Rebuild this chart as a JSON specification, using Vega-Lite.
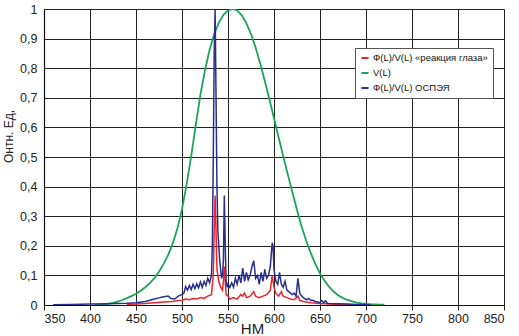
{
  "$schema": "https://vega.github.io/schema/vega-lite/v6.json",
  "width": 460,
  "height": 296,
  "autosize": {"type": "none"},
  "padding": {"left": 44, "top": 9, "right": 15, "bottom": 31},
  "background": "white",
  "config": {
    "font": "Liberation Sans",
    "view": {"stroke": null}
  },
  "datasets": {
    "v": [
      {"x":405,"y":0.00064},{"x":410,"y":0.00121},{"x":415,"y":0.00218},{"x":420,"y":0.004},{"x":425,"y":0.0073},{"x":430,"y":0.0116},{"x":435,"y":0.0168},{"x":440,"y":0.023},{"x":445,"y":0.0298},{"x":450,"y":0.038},{"x":455,"y":0.048},{"x":460,"y":0.06},{"x":465,"y":0.0739},{"x":470,"y":0.091},{"x":475,"y":0.1126},{"x":480,"y":0.139},{"x":485,"y":0.1693},{"x":490,"y":0.208},{"x":495,"y":0.2586},{"x":500,"y":0.323},{"x":505,"y":0.4073},{"x":510,"y":0.503},{"x":515,"y":0.6082},{"x":520,"y":0.71},{"x":525,"y":0.7932},{"x":530,"y":0.862},{"x":535,"y":0.9149},{"x":540,"y":0.954},{"x":545,"y":0.9803},{"x":550,"y":0.995},{"x":555,"y":1.0},{"x":560,"y":0.995},{"x":565,"y":0.9786},{"x":570,"y":0.952},{"x":575,"y":0.9154},{"x":580,"y":0.87},{"x":585,"y":0.8163},{"x":590,"y":0.757},{"x":595,"y":0.6949},{"x":600,"y":0.631},{"x":605,"y":0.5668},{"x":610,"y":0.503},{"x":615,"y":0.4412},{"x":620,"y":0.381},{"x":625,"y":0.321},{"x":630,"y":0.265},{"x":635,"y":0.217},{"x":640,"y":0.175},{"x":645,"y":0.1382},{"x":650,"y":0.107},{"x":655,"y":0.0816},{"x":660,"y":0.061},{"x":665,"y":0.0446},{"x":670,"y":0.032},{"x":675,"y":0.0232},{"x":680,"y":0.017},{"x":685,"y":0.0119},{"x":690,"y":0.0082},{"x":695,"y":0.0057},{"x":700,"y":0.0041},{"x":705,"y":0.0029},{"x":710,"y":0.0021},{"x":715,"y":0.0015},{"x":720,"y":0.001}
    ],
    "b": [
      {"x":360,"y":0.001},{"x":380,"y":0.002},{"x":400,"y":0.003},{"x":420,"y":0.004},{"x":440,"y":0.006},{"x":450,"y":0.008},{"x":460,"y":0.012},{"x":470,"y":0.02},{"x":475,"y":0.024},{"x":480,"y":0.028},{"x":485,"y":0.03},{"x":488,"y":0.022},{"x":492,"y":0.02},{"x":496,"y":0.03},{"x":500,"y":0.036},{"x":502,"y":0.04},{"x":504,"y":0.062},{"x":506,"y":0.05},{"x":508,"y":0.066},{"x":510,"y":0.052},{"x":512,"y":0.07},{"x":514,"y":0.055},{"x":516,"y":0.072},{"x":518,"y":0.058},{"x":520,"y":0.078},{"x":522,"y":0.06},{"x":524,"y":0.08},{"x":526,"y":0.066},{"x":528,"y":0.09},{"x":530,"y":0.075},{"x":532,"y":0.1},{"x":533,"y":0.2},{"x":534,"y":0.5},{"x":535,"y":0.85},{"x":536,"y":1.0},{"x":537,"y":0.7},{"x":538,"y":0.4},{"x":539,"y":0.25},{"x":540,"y":0.2},{"x":541,"y":0.15},{"x":542,"y":0.12},{"x":543,"y":0.09},{"x":544,"y":0.1},{"x":545,"y":0.15},{"x":546,"y":0.37},{"x":547,"y":0.2},{"x":548,"y":0.08},{"x":549,"y":0.06},{"x":550,"y":0.07},{"x":552,"y":0.06},{"x":554,"y":0.075},{"x":556,"y":0.06},{"x":558,"y":0.09},{"x":560,"y":0.07},{"x":562,"y":0.1},{"x":564,"y":0.075},{"x":566,"y":0.125},{"x":568,"y":0.08},{"x":570,"y":0.11},{"x":572,"y":0.085},{"x":574,"y":0.1},{"x":576,"y":0.13},{"x":578,"y":0.15},{"x":580,"y":0.09},{"x":582,"y":0.1},{"x":584,"y":0.07},{"x":586,"y":0.11},{"x":588,"y":0.08},{"x":590,"y":0.12},{"x":592,"y":0.09},{"x":594,"y":0.1},{"x":596,"y":0.13},{"x":598,"y":0.21},{"x":599,"y":0.2},{"x":600,"y":0.12},{"x":602,"y":0.08},{"x":604,"y":0.07},{"x":606,"y":0.11},{"x":608,"y":0.07},{"x":610,"y":0.06},{"x":612,"y":0.08},{"x":614,"y":0.05},{"x":616,"y":0.045},{"x":618,"y":0.04},{"x":620,"y":0.035},{"x":622,"y":0.04},{"x":624,"y":0.03},{"x":626,"y":0.09},{"x":628,"y":0.04},{"x":630,"y":0.03},{"x":632,"y":0.025},{"x":634,"y":0.02},{"x":636,"y":0.018},{"x":638,"y":0.022},{"x":640,"y":0.015},{"x":642,"y":0.016},{"x":645,"y":0.012},{"x":648,"y":0.01},{"x":650,"y":0.008},{"x":652,"y":0.015},{"x":654,"y":0.008},{"x":656,"y":0.014},{"x":658,"y":0.006},{"x":660,"y":0.005},{"x":670,"y":0.004},{"x":680,"y":0.003},{"x":690,"y":0.002},{"x":705,"y":0.001}
    ],
    "r": [
      {"x":440,"y":0.002},{"x":450,"y":0.003},{"x":460,"y":0.005},{"x":470,"y":0.008},{"x":480,"y":0.01},{"x":490,"y":0.012},{"x":495,"y":0.015},{"x":500,"y":0.016},{"x":504,"y":0.02},{"x":508,"y":0.018},{"x":512,"y":0.022},{"x":516,"y":0.02},{"x":520,"y":0.025},{"x":524,"y":0.022},{"x":528,"y":0.03},{"x":532,"y":0.035},{"x":534,"y":0.1},{"x":535,"y":0.25},{"x":536,"y":0.37},{"x":537,"y":0.25},{"x":538,"y":0.12},{"x":540,"y":0.08},{"x":542,"y":0.06},{"x":544,"y":0.05},{"x":545,"y":0.08},{"x":546,"y":0.13},{"x":547,"y":0.08},{"x":548,"y":0.035},{"x":550,"y":0.03},{"x":552,"y":0.02},{"x":556,"y":0.025},{"x":560,"y":0.02},{"x":564,"y":0.035},{"x":566,"y":0.03},{"x":568,"y":0.04},{"x":570,"y":0.025},{"x":574,"y":0.03},{"x":578,"y":0.045},{"x":580,"y":0.03},{"x":584,"y":0.025},{"x":588,"y":0.03},{"x":592,"y":0.035},{"x":596,"y":0.05},{"x":598,"y":0.1},{"x":600,"y":0.06},{"x":602,"y":0.04},{"x":605,"y":0.03},{"x":608,"y":0.045},{"x":610,"y":0.03},{"x":614,"y":0.025},{"x":618,"y":0.02},{"x":622,"y":0.018},{"x":626,"y":0.03},{"x":628,"y":0.015},{"x":632,"y":0.012},{"x":640,"y":0.008},{"x":650,"y":0.005},{"x":660,"y":0.003},{"x":670,"y":0.002},{"x":685,"y":0.001}
    ]
  },
  "encoding": {
    "x": {
      "field": "x", "type": "quantitative",
      "scale": {"domain": [350, 850], "nice": false},
      "axis": {
        "values": [350,400,450,500,550,600,650,700,750,800,850],
        "title": "НМ",
        "titleFont": "Liberation Sans", "titleFontSize": 15, "titleFontWeight": "normal", "titleColor": "#222",
        "titleX": 208, "titleY": 16, "titleAnchor": null, "titleAlign": "center", "titleBaseline": "top",
        "labelFont": "Liberation Sans", "labelFontSize": 12.5, "labelColor": "#222", "labelPadding": 2,
        "grid": true, "gridColor": "#222", "gridWidth": 1, "gridOpacity": 1,
        "domainColor": "#111", "domainWidth": 1.2,
        "ticks": true, "tickSize": 5, "tickColor": "#222"
      }
    },
    "y": {
      "field": "y", "type": "quantitative",
      "scale": {"domain": [0, 1], "nice": false},
      "axis": {
        "values": [0,0.1,0.2,0.3,0.4,0.5,0.6,0.7,0.8,0.9,1],
        "labelExpr": "replace(format(datum.value, '.1~f'), '.', ',')",
        "title": "Онтн. Ед,",
        "titleFont": "Liberation Sans", "titleFontSize": 12, "titleFontWeight": "normal", "titleColor": "#222",
        "titleX": -36, "titleY": 127, "titleAngle": -90, "titleAlign": "center", "titleBaseline": "middle", "titleAnchor": null,
        "labelFont": "Liberation Sans", "labelFontSize": 12.5, "labelColor": "#222", "labelPadding": 7,
        "grid": true, "gridColor": "#222", "gridWidth": 1, "gridOpacity": 1,
        "domainColor": "#111", "domainWidth": 1.2,
        "ticks": false
      }
    },
    "color": {
      "field": "s", "type": "nominal",
      "scale": {
        "domain": ["Ф(L)/V(L) «реакция глаза»", "V(L)", "Ф(L)/V(L) ОСПЭЯ"],
        "range": ["#e8262d", "#1aa55a", "#2a2f8e"]
      },
      "legend": {
        "title": null,
        "orient": "none", "legendX": 311, "legendY": 39,
        "symbolType": "stroke", "symbolStrokeWidth": 2, "symbolSize": 50,
        "labelFont": "Liberation Sans", "labelFontSize": 9.5, "labelColor": "#111",
        "fillColor": "white", "strokeColor": "#555", "padding": 5, "rowPadding": 5,
        "labelOffset": 3, "labelLimit": 200
      }
    }
  },
  "layer": [
    {
      "data": {"name": "v"},
      "transform": [{"calculate": "'V(L)'", "as": "s"}],
      "mark": {"type": "line", "strokeWidth": 1.8, "clip": true},
      "encoding": {}
    },
    {
      "data": {"name": "r"},
      "transform": [{"calculate": "'Ф(L)/V(L) «реакция глаза»'", "as": "s"}],
      "mark": {"type": "line", "strokeWidth": 1.5, "clip": true},
      "encoding": {}
    },
    {
      "data": {"name": "b"},
      "transform": [{"calculate": "'Ф(L)/V(L) ОСПЭЯ'", "as": "s"}],
      "mark": {"type": "line", "strokeWidth": 1.5, "clip": true},
      "encoding": {}
    }
  ]
}
